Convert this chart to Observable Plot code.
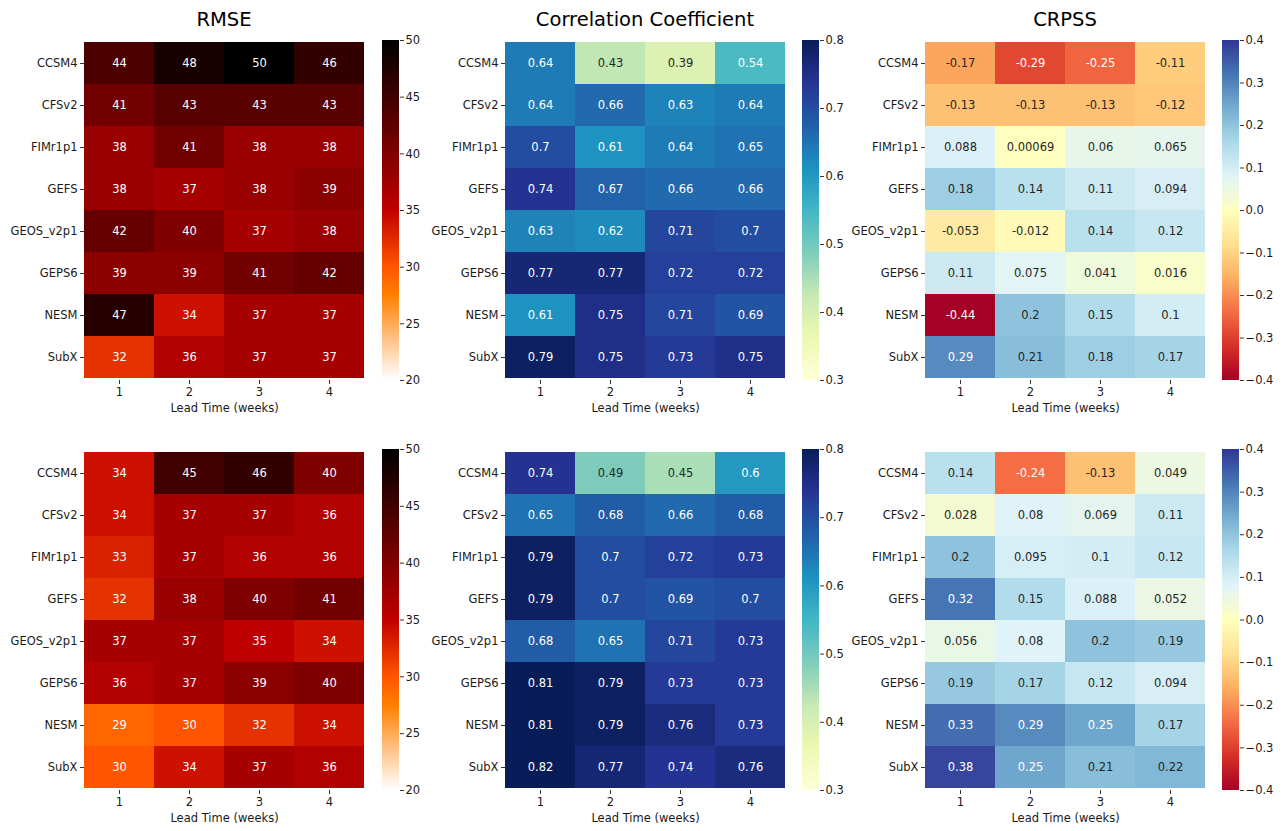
<!DOCTYPE html>
<html>
<head>
<meta charset="utf-8">
<script src="https://cdn.jsdelivr.net/npm/d3@7"></script>
<script src="https://cdn.jsdelivr.net/npm/@observablehq/plot@0.6"></script>
<style>
  html, body { margin: 0; padding: 0; background: #fff; }
  #root { position: relative; width: 1286px; height: 831px; background: #fff; overflow: hidden; font-family: "DejaVu Sans", sans-serif; }
  #root > * { position: absolute; }
  .ttl { font-size: 19.5px; color: #000; text-align: center; width: 400px; line-height: 20px; }
</style>
</head>
<body>
<div id="root"></div>
<script>
// ---------- data ----------
const models = ["CCSM4", "CFSv2", "FIMr1p1", "GEFS", "GEOS_v2p1", "GEPS6", "NESM", "SubX"];
const leads = [1, 2, 3, 4];

const rmseTop = [
  [44, 48, 50, 46],
  [41, 43, 43, 43],
  [38, 41, 38, 38],
  [38, 37, 38, 39],
  [42, 40, 37, 38],
  [39, 39, 41, 42],
  [47, 34, 37, 37],
  [32, 36, 37, 37]
];
const corrTop = [
  [0.64, 0.43, 0.39, 0.54],
  [0.64, 0.66, 0.63, 0.64],
  [0.7, 0.61, 0.64, 0.65],
  [0.74, 0.67, 0.66, 0.66],
  [0.63, 0.62, 0.71, 0.7],
  [0.77, 0.77, 0.72, 0.72],
  [0.61, 0.75, 0.71, 0.69],
  [0.79, 0.75, 0.73, 0.75]
];
const crpssTop = [
  [-0.17, -0.29, -0.25, -0.11],
  [-0.13, -0.13, -0.13, -0.12],
  [0.088, 0.00069, 0.06, 0.065],
  [0.18, 0.14, 0.11, 0.094],
  [-0.053, -0.012, 0.14, 0.12],
  [0.11, 0.075, 0.041, 0.016],
  [-0.44, 0.2, 0.15, 0.1],
  [0.29, 0.21, 0.18, 0.17]
];
const rmseBottom = [
  [34, 45, 46, 40],
  [34, 37, 37, 36],
  [33, 37, 36, 36],
  [32, 38, 40, 41],
  [37, 37, 35, 34],
  [36, 37, 39, 40],
  [29, 30, 32, 34],
  [30, 34, 37, 36]
];
const corrBottom = [
  [0.74, 0.49, 0.45, 0.6],
  [0.65, 0.68, 0.66, 0.68],
  [0.79, 0.7, 0.72, 0.73],
  [0.79, 0.7, 0.69, 0.7],
  [0.68, 0.65, 0.71, 0.73],
  [0.81, 0.79, 0.73, 0.73],
  [0.81, 0.79, 0.76, 0.73],
  [0.82, 0.77, 0.74, 0.76]
];
const crpssBottom = [
  [0.14, -0.24, -0.13, 0.049],
  [0.028, 0.08, 0.069, 0.11],
  [0.2, 0.095, 0.1, 0.12],
  [0.32, 0.15, 0.088, 0.052],
  [0.056, 0.08, 0.2, 0.19],
  [0.19, 0.17, 0.12, 0.094],
  [0.33, 0.29, 0.25, 0.17],
  [0.38, 0.25, 0.21, 0.22]
];

const titles = ["RMSE", "Correlation Coefficient", "CRPSS"];
const xLabel = "Lead Time (weeks)";
const rmseDomain = [20, 50];
const corrDomain = [0.3, 0.8];
const crpssDomain = [-0.4, 0.4];
const rmseTicks = [20, 25, 30, 35, 40, 45, 50];
const corrTicks = [0.3, 0.4, 0.5, 0.6, 0.7, 0.8];
const crpssTicks = [-0.4, -0.3, -0.2, -0.1, 0.0, 0.1, 0.2, 0.3, 0.4];

// ---------- colormaps ----------
const clamp01 = v => Math.max(0, Math.min(1, v));
const gistHeatR = t => {
  const x = 1 - t;
  return d3.rgb(255 * clamp01(1.5 * x), 255 * clamp01(2 * x - 1), 255 * clamp01(4 * x - 3)).formatHex();
};
const ylGnBu = d3.piecewise(d3.interpolateRgb, d3.schemeYlGnBu[9]);
const rdYlBu = d3.piecewise(d3.interpolateRgb, d3.schemeRdYlBu[11]);

function luminance(c) {
  const r = d3.rgb(c);
  const f = v => { v /= 255; return v <= 0.03928 ? v / 12.92 : Math.pow((v + 0.055) / 1.055, 2.4); };
  return 0.2126 * f(r.r) + 0.7152 * f(r.g) + 0.0722 * f(r.b);
}

// ---------- layout ----------
const colFrameLeft = [84, 505, 925];
const cbarLeft = [382, 802, 1222];
const frameW = 280;
const cbarW = 17;
const rowFrameTop = [40, 449];
const rowFrameH = [340, 341];
const mTop = 40, mBottom = 45;

const panels = [
  {row: 0, col: 0, m: rmseTop, domain: rmseDomain, interp: gistHeatR, ticks: rmseTicks, fmt: d3.format("d")},
  {row: 0, col: 1, m: corrTop, domain: corrDomain, interp: ylGnBu, ticks: corrTicks, fmt: d3.format(".1f")},
  {row: 0, col: 2, m: crpssTop, domain: crpssDomain, interp: rdYlBu, ticks: crpssTicks, fmt: d3.format(".1f")},
  {row: 1, col: 0, m: rmseBottom, domain: rmseDomain, interp: gistHeatR, ticks: rmseTicks, fmt: d3.format("d")},
  {row: 1, col: 1, m: corrBottom, domain: corrDomain, interp: ylGnBu, ticks: corrTicks, fmt: d3.format(".1f")},
  {row: 1, col: 2, m: crpssBottom, domain: crpssDomain, interp: rdYlBu, ticks: crpssTicks, fmt: d3.format(".1f")}
];

const root = document.getElementById("root");
const baseStyle = {
  background: "transparent",
  fontFamily: "DejaVu Sans, sans-serif",
  fontSize: "11.5px",
  color: "#1a1a1a",
  overflow: "visible"
};

for (const p of panels) {
  const rows = [];
  p.m.forEach((r, i) => r.forEach((v, j) => rows.push({model: models[i], lead: leads[j], value: v})));
  const colorOf = v => p.interp(clamp01((v - p.domain[0]) / (p.domain[1] - p.domain[0])));
  const dark = rows.filter(d => luminance(colorOf(d.value)) <= 0.408);
  const light = rows.filter(d => luminance(colorOf(d.value)) > 0.408);
  const colorScale = {type: "linear", domain: p.domain, interpolate: p.interp, clamp: true};
  const fh = rowFrameH[p.row];

  const heat = Plot.plot({
    width: 84 + frameW + 6,
    height: mTop + fh + mBottom,
    marginLeft: 84, marginRight: 6, marginTop: mTop, marginBottom: mBottom,
    style: baseStyle,
    x: {type: "band", domain: leads, padding: 0, label: null},
    y: {type: "band", domain: models, padding: 0, label: null},
    color: colorScale,
    marks: [
      Plot.cell(rows, {x: "lead", y: "model", fill: "value", inset: 0, shapeRendering: "crispEdges"}),
      Plot.text(dark, {x: "lead", y: "model", text: d => String(d.value), fill: "white", fontSize: 11.5}),
      Plot.text(light, {x: "lead", y: "model", text: d => String(d.value), fill: "#262626", fontSize: 11.5}),
      Plot.axisX({anchor: "bottom", tickSize: 4, tickPadding: 3, label: null, stroke: "#333"}),
      Plot.axisY({anchor: "left", tickSize: 4, tickPadding: 3, label: null, stroke: "#333"}),
      Plot.text([xLabel], {frameAnchor: "bottom", dy: 31, text: d => d, fill: "#1a1a1a", fontSize: 11.5})
    ]
  });
  heat.style.left = (colFrameLeft[p.col] - 84) + "px";
  heat.style.top = (rowFrameTop[p.row] - mTop) + "px";
  root.appendChild(heat);

  const n = 340;
  const step = (p.domain[1] - p.domain[0]) / n;
  const bins = d3.range(n).map(i => ({
    y1: p.domain[0] + i * step,
    y2: p.domain[0] + (i + 1) * step,
    v: p.domain[0] + (i + 0.5) * step
  }));
  const cbar = Plot.plot({
    width: cbarW + 44,
    height: mTop + fh + mBottom,
    marginLeft: 0, marginRight: 44, marginTop: mTop, marginBottom: mBottom,
    style: baseStyle,
    x: {domain: [0, 1], axis: null},
    y: {domain: p.domain, label: null},
    color: colorScale,
    marks: [
      Plot.rect(bins, {x1: d => 0, x2: d => 1, y1: "y1", y2: "y2", fill: "v", shapeRendering: "crispEdges"}),
      Plot.axisY({anchor: "right", ticks: p.ticks, tickFormat: p.fmt, tickSize: 4, tickPadding: 2, label: null, stroke: "#333"})
    ]
  });
  cbar.style.left = cbarLeft[p.col] + "px";
  cbar.style.top = (rowFrameTop[p.row] - mTop) + "px";
  root.appendChild(cbar);
}

titles.forEach((t, c) => {
  const div = document.createElement("div");
  div.className = "ttl";
  div.textContent = t;
  div.style.left = (colFrameLeft[c] + frameW / 2 - 200) + "px";
  div.style.top = "10px";
  root.appendChild(div);
});
</script>
</body>
</html>
